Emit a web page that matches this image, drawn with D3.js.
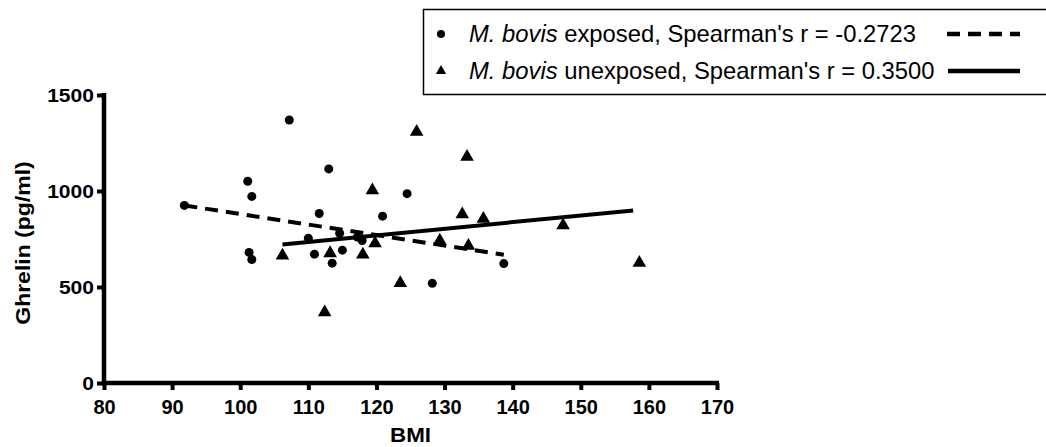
<!DOCTYPE html>
<html lang="en">
<head>
  <meta charset="UTF-8">
  <title>Ghrelin vs BMI</title>
  <script src="https://d3js.org/d3.v7.min.js"></script>
  <style>
    body { margin: 0; background: #fff; }
    text { font-family: "Liberation Sans", Arial, sans-serif; fill: #000; }
  </style>
</head>
<body>
  <svg width="1046" height="447"></svg>

  <script>
    // M. bovis exposed (circles)
    const exposedBMI = [91.8, 101.1, 101.7, 101.3, 101.7, 107.2, 113.0, 124.5, 111.6, 120.9,
                        110.0, 114.6, 117.2, 117.9, 110.9, 115.0, 113.5, 128.2, 138.7];
    const exposedGhrelin = [925, 1051, 972, 680, 643, 1370, 1115, 986, 883, 869,
                            754, 780, 760, 742, 671, 692, 624, 519, 622];

    // M. bovis unexposed (triangles)
    const unexposedBMI = [106.2, 113.2, 118.0, 119.8, 119.4, 125.9, 133.3, 132.6, 129.3, 133.5,
                          135.7, 147.4, 158.6, 112.4, 123.5];
    const unexposedGhrelin = [664, 676, 669, 728, 1004, 1308, 1178, 878, 742, 714,
                              855, 821, 626, 368, 520];

    // fitted lines (end points)
    const exposedFitBMI = [91.8, 138.7];
    const exposedFitGhrelin = [925, 668];
    const unexposedFitBMI = [106.2, 157.7];
    const unexposedFitGhrelin = [721, 899];

    const xTicks = [80, 90, 100, 110, 120, 130, 140, 150, 160, 170];
    const yTicks = [0, 500, 1000, 1500];

    const legendLabels = [
      { italic: "M. bovis", rest: " exposed, Spearman's r = -0.2723" },
      { italic: "M. bovis", rest: " unexposed, Spearman's r = 0.3500" }
    ];

    const svg = d3.select("svg");

    const x = d3.scaleLinear().domain([80, 170]).range([104, 717]);
    const y = d3.scaleLinear().domain([0, 1500]).range([383, 95]);

    // axes
    const xAxis = svg.append("g")
      .attr("transform", `translate(0,${y(0)})`)
      .call(d3.axisBottom(x).tickValues(xTicks).tickFormat(d3.format("d"))
        .tickSize(7).tickSizeOuter(0));
    const yAxis = svg.append("g")
      .attr("transform", `translate(${x(80)},0)`)
      .call(d3.axisLeft(y).tickValues(yTicks).tickFormat(d3.format("d"))
        .tickSize(7).tickSizeOuter(0));

    [xAxis, yAxis].forEach(g => {
      g.attr("font-family", null).attr("font-size", null);
      g.select(".domain").attr("stroke", "#000").attr("stroke-width", 4.5);
      g.selectAll(".tick line").attr("stroke", "#000").attr("stroke-width", 4);
    });
    // the two axis lines meet at the corner
    xAxis.select(".domain").attr("d", `M${x(80) - 2.25},0H${x(170) + 2}`);
    yAxis.select(".domain").attr("d", `M0,${y(1500) - 2}V${y(0) + 2.25}`);

    xAxis.selectAll(".tick text")
      .style("font-size", "20px")
      .style("font-weight", "bold")
      .attr("fill", "#000")
      .attr("dy", null)
      .attr("y", 31);

    yAxis.selectAll(".tick text")
      .style("font-size", "18px")
      .style("font-weight", "bold")
      .attr("fill", "#000")
      .attr("x", 0)
      .attr("dy", null)
      .attr("y", 6.5)
      .attr("transform", "translate(-10,0) scale(1.17,1)");

    // axis titles
    svg.append("text")
      .attr("transform", `translate(${(x(80) + x(170)) / 2},442) scale(1.12,1)`)
      .attr("text-anchor", "middle")
      .style("font-size", "20px")
      .style("font-weight", "bold")
      .text("BMI");

    svg.append("text")
      .attr("transform", "translate(30,243) rotate(-90) scale(1.15,1)")
      .attr("text-anchor", "middle")
      .style("font-size", "20px")
      .style("font-weight", "bold")
      .text("Ghrelin (pg/ml)");

    // fitted lines
    const line = d3.line().x(d => x(d[0])).y(d => y(d[1]));

    svg.append("path")
      .datum(d3.zip(exposedFitBMI, exposedFitGhrelin))
      .attr("d", line)
      .attr("fill", "none")
      .attr("stroke", "#000")
      .attr("stroke-width", 4)
      .attr("stroke-dasharray", "13,8");

    svg.append("path")
      .datum(d3.zip(unexposedFitBMI, unexposedFitGhrelin))
      .attr("d", line)
      .attr("fill", "none")
      .attr("stroke", "#000")
      .attr("stroke-width", 4);

    // points
    svg.selectAll(".exposed")
      .data(d3.zip(exposedBMI, exposedGhrelin))
      .enter().append("circle")
      .attr("class", "exposed")
      .attr("cx", d => x(d[0]))
      .attr("cy", d => y(d[1]))
      .attr("r", 4.5)
      .attr("fill", "#000");

    const tri = d3.symbol().type(d3.symbolTriangle).size(80);
    svg.selectAll(".unexposed")
      .data(d3.zip(unexposedBMI, unexposedGhrelin))
      .enter().append("path")
      .attr("class", "unexposed")
      .attr("transform", d => `translate(${x(d[0])},${y(d[1])})`)
      .attr("d", tri)
      .attr("fill", "#000");

    // legend
    const legend = svg.append("g");
    legend.append("rect")
      .attr("x", 423.5)
      .attr("y", 9.5)
      .attr("width", 640)
      .attr("height", 85)
      .attr("fill", "#fff")
      .attr("stroke", "#000")
      .attr("stroke-width", 1.5);

    const rowY = [34, 71];

    legend.append("circle")
      .attr("cx", 441).attr("cy", rowY[0]).attr("r", 4).attr("fill", "#000");
    legend.append("path")
      .attr("transform", `translate(441,${rowY[1]})`)
      .attr("d", d3.symbol().type(d3.symbolTriangle).size(46))
      .attr("fill", "#000");

    legendLabels.forEach((lab, i) => {
      const t = legend.append("text")
        .attr("x", 469)
        .attr("y", rowY[i] + 8)
        .style("font-size", "23.8px");
      t.append("tspan").attr("font-style", "italic").text(lab.italic);
      t.append("tspan").text(lab.rest);
    });

    legend.append("line")
      .attr("x1", 947).attr("x2", 1020)
      .attr("y1", rowY[0]).attr("y2", rowY[0])
      .attr("stroke", "#000").attr("stroke-width", 4.5)
      .attr("stroke-dasharray", "13,8");
    legend.append("line")
      .attr("x1", 948).attr("x2", 1020)
      .attr("y1", rowY[1]).attr("y2", rowY[1])
      .attr("stroke", "#000").attr("stroke-width", 4.5);
  </script>
</body>
</html>
